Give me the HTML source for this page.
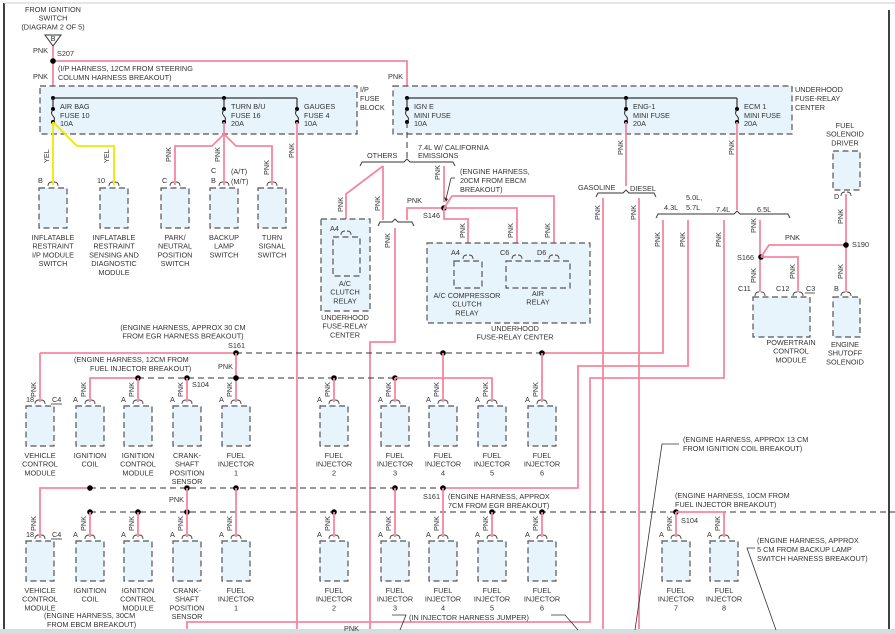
<!DOCTYPE html>
<html><head><meta charset="utf-8"><style>
html,body{margin:0;padding:0;background:#fff;}
svg{display:block;font-family:"Liberation Sans",sans-serif;}
</style></head><body>
<svg id="s" width="895" height="634" viewBox="0 0 895 634" xmlns="http://www.w3.org/2000/svg"></svg>
<script>
const S=document.getElementById('s');let h='';
const PK='#f4879f',DK='#333',FILL='#e7f4fc';
function t(x,y,s,a){h+=`<text x="${x}" y="${y}" font-size="7.3" fill="#333" text-anchor="${a||'start'}">${s}</text>`;}
function tc(x,y,lines){lines.forEach((s,i)=>t(x,y+i*8.7,s,'middle'));}
function vt(x,y,s){h+=`<text x="${x}" y="${y}" font-size="7.3" fill="#333" transform="rotate(-90 ${x} ${y})">${s}</text>`;}
function pl(pts,c,w){h+=`<polyline points="${pts}" fill="none" stroke="${c||PK}" stroke-width="${w||1.8}"/>`;}
function dl(x1,y1,x2,y2){h+=`<line x1="${x1}" y1="${y1}" x2="${x2}" y2="${y2}" stroke="${DK}" stroke-width="1" stroke-dasharray="6,4"/>`;}
function ln(x1,y1,x2,y2,c,w){h+=`<line x1="${x1}" y1="${y1}" x2="${x2}" y2="${y2}" stroke="${c||DK}" stroke-width="${w||1}"/>`;}
function dot(x,y,r){h+=`<circle cx="${x}" cy="${y}" r="${r||2.6}" fill="#000"/>`;}
function box(x,y,w,hh){h+=`<rect x="${x}" y="${y}" width="${w}" height="${hh}" fill="${FILL}" stroke="#555" stroke-width="1.2" stroke-dasharray="6,3.5"/>`;}
function conn(x,y){h+=`<path d="M${x-5} ${y+2} Q${x-5} ${y-2} ${x-1} ${y-2} M${x+1} ${y-2} Q${x+5} ${y-2} ${x+5} ${y+2}" fill="none" stroke="#444" stroke-width="0.9"/>`;}
function comp(cx,top,lines){box(cx-14,top,28,40);conn(cx,top-4);tc(cx,top+52,lines);}
function fuse(x,y){dot(x,y,2);h+=`<path d="M${x} ${y+1} q-3 3 0 6 q3 3 0 6" fill="none" stroke="#333" stroke-width="1"/>`;dot(x,y+13,2);}
function brace(x1,x2,px,y){h+=`<path d="M${x1} ${y+4} L${x1+2} ${y} L${px-3} ${y} L${px} ${y-3} L${px+3} ${y} L${x2-2} ${y} L${x2} ${y+4}" fill="none" stroke="#333" stroke-width="0.9"/>`;}

ln(4,3,4,634,'#000',1.5);ln(889,10,889,634,'#000',1.5);ln(4,3,895,3,'#ccc',1);
h+=`<rect x="0" y="629" width="895" height="5" fill="#d5dde3"/>`;

tc(53,12,['FROM IGNITION','SWITCH','(DIAGRAM 2 OF 5)']);
h+=`<path d="M45 35 L61 35 L53 46 Z" fill="#fff" stroke="#333"/>`;t(53,41,'B','middle');
pl('53,46 53,98');pl('53,61 407,61 407,98');dot(53,61,2.8);
t(33,53,'PNK');t(57,56,'S207');t(33,79,'PNK');t(58,71,'(I/P HARNESS, 12CM FROM STEERING');t(58,80,'COLUMN HARNESS BREAKOUT)');t(388,79,'PNK');

box(40,86,317,48);t(360,92,'I/P');t(360,101,'FUSE');t(360,110,'BLOCK');
box(393,86,399,48);t(795,92,'UNDERHOOD');t(795,101,'FUSE-RELAY');t(795,110,'CENTER');
ln(53,98,297,98,'#333',1.2);dot(53,98,2);dot(224,98,2);
ln(407,98,737,98,'#333',1.2);dot(407,98,2);dot(626,98,2);
[[53,'AIR BAG','FUSE 10','10A'],[224,'TURN B/U','FUSE 16','20A'],[297,'GAUGES','FUSE 4','10A'],[407,'IGN E','MINI FUSE','10A'],[626,'ENG-1','MINI FUSE','20A'],[737,'ECM 1','MINI FUSE','20A']].forEach(f=>{ln(f[0],98,f[0],109,'#333',1.2);fuse(f[0],109);t(f[0]+7,109,f[1]);t(f[0]+7,118,f[2]);t(f[0]+7,126,f[3]);});

pl('53,122 53,185','#f2e600');pl('53,122 77,146 114,146 114,185','#f2e600');
vt(49,163,'YEL');vt(109,163,'YEL');t(38,183,'B');t(97,183,'10');
pl('224,122 224,185');pl('224,134 212,146 175,146 175,185');pl('224,134 236,146 272,146 272,185');
vt(171,162,'PNK');vt(220,162,'PNK');vt(269,175,'PNK');t(162,183,'C');t(211,173,'C');t(211,183,'B');t(231,174,'(A/T)');t(231,184,'(M/T)');
comp(53,188,['INFLATABLE','RESTRAINT','I/P MODULE','SWITCH']);
comp(114,188,['INFLATABLE','RESTRAINT','SENSING AND','DIAGNOSTIC','MODULE']);
comp(175,188,['PARK/','NEUTRAL','POSITION','SWITCH']);
comp(224,188,['BACKUP','LAMP','SWITCH']);
comp(272,188,['TURN','SIGNAL','SWITCH']);
pl('297,122 297,629');vt(294,158,'PNK');

dl(407,122,407,158);brace(360,455,407,162);t(367,158,'OTHERS');t(418,150,'7.4L W/ CALIFORNIA');t(418,158,'EMISSIONS');
pl('383,166 346,194 346,232');pl('383,166 383,220');vt(343,212,'PNK');vt(380,211,'PNK');
brace(378,414,395,222);pl('395,228 395,342 370,342 370,629');vt(390,248,'PNK');
pl('407,220 407,208 444,208');t(407,203,'PNK');
pl('444,166 444,202');vt(440,180,'PNK');
ln(455,178,451,178,'#333',0.8);ln(451,178,446,199,'#333',0.8);h+='<path d="M444 197 L448 199 L446 202Z" fill="#333"/>';
t(460,174,'(ENGINE HARNESS,');t(460,183,'20CM FROM EBCM');t(460,192,'BREAKOUT)');
dot(444,208,2.8);t(423,218,'S146');
pl('444,208 517,208 517,248');pl('444,208 452,196 554,196 554,248');pl('444,208 444,219 468,219 468,248');
vt(465,238,'PNK');vt(513,238,'PNK');vt(550,238,'PNK');
box(321,219,49,92);t(330,231,'A4');conn(346,233);box(333,237,27,39);tc(345,286,['A/C','CLUTCH','RELAY']);tc(345,320,['UNDERHOOD','FUSE-RELAY','CENTER']);
box(427,243,163,80);t(451,255,'A4');t(500,255,'C6');t(537,255,'D6');conn(468,257);conn(517,257);conn(554,257);
box(454,261,28,27);box(506,261,64,27);tc(467,298,['A/C COMPRESSOR','CLUTCH','RELAY']);tc(538,296,['AIR','RELAY']);tc(515,331,['UNDERHOOD','FUSE-RELAY CENTER']);

pl('626,122 626,186');vt(623,155,'PNK');brace(596,656,626,193);t(578,190,'GASOLINE');t(630,191,'DIESEL');
pl('603,198 603,629');pl('639,198 639,629');vt(600,220,'PNK');vt(636,220,'PNK');
pl('737,122 737,210');vt(734,155,'PNK');brace(656,790,737,214);
t(664,210,'4.3L');t(686,200,'5.0L,');t(686,210,'5.7L');t(716,212,'7.4L');t(757,212,'6.5L');
pl('663,220 663,353 542,353');vt(660,247,'PNK');
pl('688,220 688,366 578,366 578,488 443,488');vt(685,247,'PNK');
pl('724,220 724,378 590,378 590,622 187,622 187,629');vt(721,247,'PNK');
pl('760,220 760,292');vt(756,233,'PNK');dot(761,257,2.8);t(737,260,'S166');
pl('761,257 769,245 846,245');t(785,240,'PNK');pl('761,257 798,257 798,292');vt(795,279,'PNK');vt(756,283,'PNK');
t(738,291,'C11');t(776,291,'C12');t(806,291,'C3');ln(805,293,815,293,'#333',0.8);
conn(760,294);conn(798,294);box(753,297,57,40);tc(791,345,['POWERTRAIN','CONTROL','MODULE']);
tc(845,128,['FUEL','SOLENOID','DRIVER']);box(833,151,27,39);t(834,199,'D');conn(846,194);
pl('846,194 846,292');dot(846,245,2.8);t(852,247,'S190');vt(843,224,'PNK');vt(843,279,'PNK');t(834,291,'B');conn(846,294);
box(833,297,27,40);tc(845,347,['ENGINE','SHUTOFF','SOLENOID']);

tc(183,330,['(ENGINE HARNESS, APPROX 30 CM','FROM EGR HARNESS BREAKOUT)']);t(228,348,'S161');
pl('40,353 236,353');pl('40,353 40,402');dl(236,353,542,353);dot(236,353,2.8);dot(443,353,2.8);dot(542,353,2.8);
pl('236,353 236,402');t(218,369,'PNK');
t(74,362,'(ENGINE HARNESS, 12CM FROM');t(90,371,'FUEL INJECTOR BREAKOUT)');
pl('90,402 90,378 138,378');dl(138,378,395,378);[138,187,236,334,395].forEach(x=>dot(x,378,2.8));t(192,387,'S104');
pl('395,378 492,378 492,402');
[138,187,334,395].forEach(x=>pl(`${x},378 ${x},402`));pl('443,353 443,402');pl('542,353 542,402');
const top1=[[40,['VEHICLE','CONTROL','MODULE']],[90,['IGNITION','COIL']],[138,['IGNITION','CONTROL','MODULE']],[187,['CRANK-','SHAFT','POSITION','SENSOR']],[236,['FUEL','INJECTOR','1']],[334,['FUEL','INJECTOR','2']],[395,['FUEL','INJECTOR','3']],[443,['FUEL','INJECTOR','4']],[492,['FUEL','INJECTOR','5']],[542,['FUEL','INJECTOR','6']]];
top1.forEach((c,i)=>{comp(c[0],406,c[1]);vt(c[0]-4,397,'PNK');if(i>0)t(c[0]-17,402,'A');});
t(26,402,'18');t(52,402,'C4');ln(51,404,62,404,'#333',0.8);

pl('40,538 40,488 90,488');dl(90,488,443,488);[90,187,236,395,443].forEach(x=>dot(x,488,2.8));
t(423,499,'S161');t(448,499,'(ENGINE HARNESS, APPROX');t(448,508,'7CM FROM EGR BREAKOUT)');
dl(90,512,895,512);[90,138,187,334,492,542,676].forEach(x=>dot(x,512,2.8));
pl('187,488 187,512');t(169,502,'PNK');
[90,138,187,334,492,542].forEach(x=>pl(`${x},512 ${x},537`));[236,395,443].forEach(x=>pl(`${x},488 ${x},537`));
pl('676,512 676,537');pl('676,512 724,512 724,537');
t(675,498,'(ENGINE HARNESS, 10CM FROM');t(675,507,'FUEL INJECTOR BREAKOUT)');t(681,523,'S104');
top1.forEach((c,i)=>{comp(c[0],541,c[1]);vt(c[0]-4,531,'PNK');if(i>0)t(c[0]-17,537,'A');});
t(26,537,'18');t(52,537,'C4');ln(51,539,62,539,'#333',0.8);
[[676,['FUEL','INJECTOR','7']],[724,['FUEL','INJECTOR','8']]].forEach(c=>{comp(c[0],541,c[1]);vt(c[0]-4,531,'PNK');t(c[0]-17,537,'A');});
t(44,618,'(ENGINE HARNESS, 30CM');t(47,627,'FROM EBCM BREAKOUT)');
t(409,620,'(IN INJECTOR HARNESS JUMPER)');pl('392,615 406,615 400,630','#333',0.8);pl('551,615 565,615 578,630','#333',0.8);
t(344,631,'PNK');
t(683,442,'(ENGINE HARNESS, APPROX 13 CM');t(683,451,'FROM IGNITION COIL BREAKOUT)');pl('679,444 662,444 635,630','#333',0.8);
t(757,543,'(ENGINE HARNESS, APPROX');t(757,552,'5 CM FROM BACKUP LAMP');t(757,561,'SWITCH HARNESS BREAKOUT)');pl('755,548 747,548 776,630','#333',0.8);
S.innerHTML=h;
</script>
</body></html>
